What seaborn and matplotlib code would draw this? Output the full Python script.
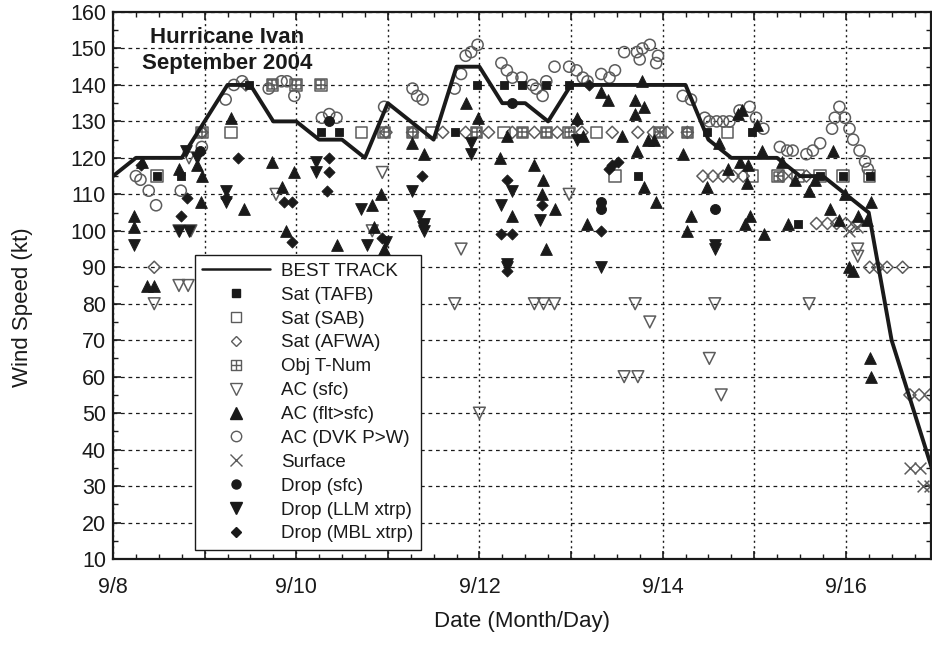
import numpy as np
import pandas as pd
import matplotlib
matplotlib.use("Agg")
import matplotlib.pyplot as plt
import seaborn as sns
from matplotlib.path import Path
from matplotlib.lines import Line2D
from matplotlib.ticker import MultipleLocator, FixedLocator, FixedFormatter

# ---------------- data (days after 9/8 00Z, wind in kt) ----------------
best_day = [0.0, 0.25, 0.5, 0.75, 1.0, 1.25, 1.5, 1.75, 2.0, 2.25, 2.5, 2.75,
            3.0, 3.25, 3.5, 3.75, 4.0, 4.25, 4.5, 4.75, 5.0, 5.25, 5.5, 5.75,
            6.0, 6.25, 6.5, 6.75, 7.0, 7.25, 7.5, 7.75, 8.0, 8.25, 8.5, 8.75, 9.0]
best_kt = [115, 120, 120, 120, 130, 140, 140, 130, 130, 125, 125, 120,
           135, 130, 125, 145, 145, 135, 135, 130, 140, 140, 140, 140,
           140, 140, 125, 120, 120, 120, 115, 115, 110, 105, 70, 50, 30]

tafb_day = [0.48, 0.74, 1.49, 2.27, 2.47, 3.73, 3.97, 4.27, 4.47, 4.73, 4.98,
            5.73, 6.48, 6.98, 7.72, 7.97, 8.26, 7.48]
tafb_kt = [115, 115, 140, 127, 127, 127, 140, 140, 140, 140, 140,
           115, 127, 127, 115, 115, 115, 102]

sab_day = [0.48, 1.29, 1.74, 2.0, 2.27, 2.71, 2.96, 3.27, 3.48, 3.97, 4.27, 4.47,
           4.73, 4.98, 5.28, 5.48, 5.97, 6.27, 6.71, 6.98, 7.26, 7.48, 7.72, 7.97,
           8.26, 0.97]
sab_kt = [115, 127, 140, 140, 140, 127, 127, 127, 127, 127, 127, 127,
          127, 127, 127, 115, 127, 127, 127, 115, 115, 115, 115, 115,
          115, 127]

afwa_day = [0.45, 0.97, 1.45, 2.98, 3.27, 3.6, 3.85, 4.1, 4.36, 4.6, 4.85, 5.12,
            5.45, 5.73, 5.9, 6.05, 6.27, 6.44, 6.55, 6.66, 6.77, 6.88, 7.31, 7.44,
            7.57, 7.68, 7.8, 7.9, 8.0, 8.12, 8.26, 8.35, 8.45, 8.62, 8.7, 8.8, 8.92]
afwa_kt = [90, 127, 140, 127, 127, 127, 127, 127, 127, 127, 127, 127,
           127, 127, 127, 127, 127, 115, 115, 115, 115, 115, 115, 115,
           115, 102, 102, 102, 102, 102, 90, 90, 90, 90, 55, 55, 55]

obj_day = [1.74, 2.0, 2.27, 0.97, 2.96, 3.27, 3.97, 4.47, 4.73, 4.98, 5.97, 6.27, 7.26]
obj_kt = [140, 140, 140, 127, 127, 127, 127, 127, 127, 127, 127, 127, 115]

acsfc_day = [0.45, 0.72, 0.82, 0.72, 0.85, 0.83, 1.78, 2.94, 2.83, 3.8, 3.73, 4.0,
             4.6, 4.7, 4.82, 4.98, 5.7, 5.86, 5.58, 5.73, 6.57, 7.6, 6.51, 6.64,
             8.13, 8.13]
acsfc_kt = [80, 85, 85, 100, 100, 120, 110, 116, 100, 95, 80, 50,
            80, 80, 80, 110, 80, 75, 60, 60, 80, 80, 65, 55,
            95, 93]

flt_day = [0.32, 0.23, 0.23, 0.37, 0.45, 0.72, 0.92, 0.97, 0.96, 1.29, 1.74, 1.98,
           1.84, 1.43, 2.93, 2.83, 3.85, 3.26, 3.4, 3.98, 4.22, 4.6, 4.69, 4.68,
           4.36, 4.82, 4.3, 5.06, 5.13, 5.33, 5.4, 5.7, 5.8, 5.7, 5.78, 5.56,
           5.72, 5.84, 5.91, 5.18, 5.8, 5.93, 4.73, 2.96, 1.89, 2.45, 2.85, 6.62,
           6.22, 6.82, 6.87, 7.03, 7.08, 6.84, 6.93, 6.71, 6.48, 6.92, 7.3, 7.44,
           7.6, 7.66, 7.86, 7.99, 7.83, 7.93, 8.13, 8.28, 8.23, 6.31, 6.27, 6.95,
           6.9, 7.11, 7.37, 8.04, 8.08, 8.26, 8.28]
flt_kt = [119, 104, 101, 85, 85, 117, 118, 115, 108, 131, 119, 116,
          112, 106, 110, 107, 135, 124, 121, 131, 120, 118, 114, 110,
          104, 106, 126, 131, 126, 138, 136, 136, 134, 132, 141, 126,
          122, 125, 125, 102, 112, 108, 95, 95, 100, 96, 101, 124,
          121, 132, 133, 129, 122, 119, 118, 117, 112, 113, 119, 114,
          111, 114, 122, 110, 106, 103, 104, 108, 103, 104, 100, 104,
          102, 99, 102, 90, 89, 65, 60]

dvk_day = [0.25, 0.3, 0.39, 0.47, 0.74, 0.97, 1.23, 1.32, 1.41, 1.7, 1.84, 1.9,
           1.98, 2.28, 2.36, 2.44, 2.96, 3.27, 3.32, 3.38, 3.73, 3.8, 3.85, 3.91,
           3.98, 4.24, 4.3, 4.36, 4.46, 4.58, 4.62, 4.69, 4.73, 4.82, 4.98, 5.06,
           5.13, 5.18, 5.33, 5.42, 5.48, 5.58, 5.72, 5.78, 5.86, 5.93, 5.75, 5.95,
           6.22, 6.31, 6.46, 6.51, 6.59, 6.66, 6.73, 6.84, 6.95, 7.02, 7.1, 7.28,
           7.36, 7.42, 7.57, 7.64, 7.72, 7.85, 7.88, 7.93, 7.99, 8.04, 8.08, 8.15,
           8.21, 8.24]
dvk_kt = [115, 114, 111, 107, 111, 123, 136, 140, 141, 139, 141, 141,
          137, 131, 132, 131, 134, 139, 137, 136, 139, 143, 148, 149,
          151, 146, 144, 142, 142, 140, 139, 137, 141, 145, 145, 144,
          142, 141, 143, 142, 144, 149, 149, 150, 151, 146, 147, 148,
          137, 136, 131, 130, 130, 130, 130, 133, 134, 131, 128, 123,
          122, 122, 121, 122, 124, 128, 131, 134, 131, 128, 125, 122,
          119, 117]

surf_day = [8.04, 8.12, 8.7, 8.81, 8.84, 8.92]
surf_kt = [100, 101, 35, 35, 30, 30]

dsfc_day = [0.95, 4.36, 5.33, 5.33, 6.57, 2.36]
dsfc_kt = [122, 135, 108, 106, 106, 130]

llm_day = [0.23, 0.72, 0.83, 2.77, 2.98, 2.71, 2.22, 2.22, 1.23, 1.23, 0.8, 0.92,
           3.26, 3.91, 3.91, 5.07, 3.34, 3.4, 4.24, 4.36, 4.66, 4.3, 4.3, 5.33,
           3.38, 3.4, 6.57, 6.57]
llm_kt = [96, 100, 100, 96, 97, 106, 119, 116, 111, 108, 122, 120,
          111, 124, 121, 125, 104, 102, 107, 111, 103, 90, 91, 90,
          101, 100, 95, 96]

mbl_day = [0.31, 1.36, 2.36, 2.36, 2.34, 0.81, 0.74, 1.87, 1.95, 1.95, 2.94, 3.37,
           4.3, 4.68, 5.45, 5.42, 5.51, 5.2, 5.06, 4.24, 4.36, 5.33, 4.3, 1.23]
mbl_kt = [118, 120, 120, 116, 111, 109, 104, 108, 108, 97, 98, 115,
          114, 107, 118, 117, 119, 140, 130, 99, 99, 100, 89, 109]

tick_days = [0, 1, 2, 3, 4, 5, 6, 7, 8]
tick_labels = ["9/8", "", "9/10", "", "9/12", "", "9/14", "", "9/16"]

# ---------------- style ----------------
sns.set_theme(style="ticks")
plt.rcParams['font.family'] = ['Liberation Sans', 'DejaVu Sans']

fig = plt.figure(figsize=(9.32, 6.46), dpi=100)
ax = fig.add_axes([113/932, 1-559/646, 818/932, 547/646])

GREY = "#5c5c5c"

# box with plus marker for Obj T-Num
boxplus = Path([(-1, -1), (1, -1), (1, 1), (-1, 1), (-1, -1), (0, -1), (0, 1), (-1, 0), (1, 0)],
               [Path.MOVETO, Path.LINETO, Path.LINETO, Path.LINETO, Path.CLOSEPOLY,
                Path.MOVETO, Path.LINETO, Path.MOVETO, Path.LINETO])


def open_sc(x, y, marker, s, z=2):
    sns.scatterplot(x=x, y=y, ax=ax, marker=marker, s=s, facecolor="none",
                    edgecolor=GREY, linewidth=1.1, legend=False, zorder=z)


def fill_sc(x, y, marker, s, z=4):
    sns.scatterplot(x=x, y=y, ax=ax, marker=marker, s=s, color="k",
                    edgecolor="k", linewidth=0.6, legend=False, zorder=z)


open_sc(dvk_day, dvk_kt, "o", 64)
open_sc(afwa_day, afwa_kt, "D", 38)
open_sc(sab_day, sab_kt, "s", 68)
open_sc(obj_day, obj_kt, boxplus, 42)
open_sc(acsfc_day, acsfc_kt, "v", 72)
sns.scatterplot(x=surf_day, y=surf_kt, ax=ax, marker="x", s=72, color=GREY,
                linewidth=1.1, legend=False, zorder=2)

sns.lineplot(x=best_day, y=best_kt, ax=ax, color="k", linewidth=2.8, zorder=3)

fill_sc(tafb_day, tafb_kt, "s", 40)
fill_sc(flt_day, flt_kt, "^", 72)
fill_sc(dsfc_day, dsfc_kt, "o", 52)
fill_sc(llm_day, llm_kt, "v", 72)
fill_sc(mbl_day, mbl_kt, "D", 32)

# ---------------- axes ----------------
ax.set_xlim(0, 8.93)
ax.set_ylim(10, 160)
ax.xaxis.set_major_locator(FixedLocator(tick_days))
ax.xaxis.set_major_formatter(FixedFormatter(tick_labels))
ax.xaxis.set_minor_locator(MultipleLocator(0.25))
ax.yaxis.set_major_locator(MultipleLocator(10))
ax.yaxis.set_minor_locator(MultipleLocator(5))

ax.tick_params(which="both", direction="in", top=True, right=True, colors="k")
ax.tick_params(which="major", length=6, width=1.2, labelsize=15.5)
ax.tick_params(which="minor", length=3.5, width=1.0)
ax.tick_params(axis="x", which="major", pad=13)
ax.tick_params(axis="y", which="major", pad=5)

ax.set_axisbelow(True)
ax.yaxis.grid(True, which="major", color="k", linestyle=(0, (3, 3)), linewidth=0.9)
ax.xaxis.grid(True, which="major", color="k", linestyle=(0, (1.5, 2.5)), linewidth=1.0)
for sp in ax.spines.values():
    sp.set_color("k")
    sp.set_linewidth(1.6)

ax.set_xlabel("Date (Month/Day)", fontsize=16, color="k")
ax.set_ylabel("Wind Speed (kt)", fontsize=16, color="k")
ax.xaxis.set_label_coords(0.5, -0.095)
ax.yaxis.set_label_coords(-0.098, 0.46)

ax.text(1.245, 151.5, "Hurricane Ivan", ha="center", va="baseline",
        fontsize=16, fontweight="bold", color="k", zorder=6)
ax.text(1.245, 144.4, "September 2004", ha="center", va="baseline",
        fontsize=16, fontweight="bold", color="k", zorder=6)

# ---------------- legend ----------------
handles = [
    Line2D([], [], color="k", lw=1.8, label="BEST TRACK"),
    Line2D([], [], ls="", marker="s", ms=6, mfc="k", mec="k", label="Sat (TAFB)"),
    Line2D([], [], ls="", marker="s", ms=7.5, mfc="none", mec=GREY, mew=1.0, label="Sat (SAB)"),
    Line2D([], [], ls="", marker="D", ms=5.5, mfc="none", mec=GREY, mew=1.0, label="Sat (AFWA)"),
    Line2D([], [], ls="", marker=boxplus, ms=7, mfc="none", mec=GREY, mew=1.0, label="Obj T-Num"),
    Line2D([], [], ls="", marker="v", ms=8, mfc="none", mec=GREY, mew=1.0, label="AC (sfc)"),
    Line2D([], [], ls="", marker="^", ms=8, mfc="k", mec="k", label="AC (flt>sfc)"),
    Line2D([], [], ls="", marker="o", ms=7.5, mfc="none", mec=GREY, mew=1.0, label="AC (DVK P>W)"),
    Line2D([], [], ls="", marker="x", ms=8, color=GREY, mew=1.0, label="Surface"),
    Line2D([], [], ls="", marker="o", ms=6.5, mfc="k", mec="k", label="Drop (sfc)"),
    Line2D([], [], ls="", marker="v", ms=8, mfc="k", mec="k", label="Drop (LLM xtrp)"),
    Line2D([], [], ls="", marker="D", ms=5.5, mfc="k", mec="k", label="Drop (MBL xtrp)"),
]
leg = ax.legend(handles=handles, loc="lower left", bbox_to_anchor=(0.100, 0.0165),
                borderaxespad=0, fontsize=13.5, handlelength=3.6, handletextpad=0.6,
                labelspacing=0.36, borderpad=0.4, frameon=True, fancybox=False,
                framealpha=1, edgecolor="k")
leg.get_frame().set_linewidth(1.0)
leg.set_zorder(10)
for t in leg.get_texts():
    t.set_color("k")

fig.savefig("out.png", dpi=100, facecolor="white")
